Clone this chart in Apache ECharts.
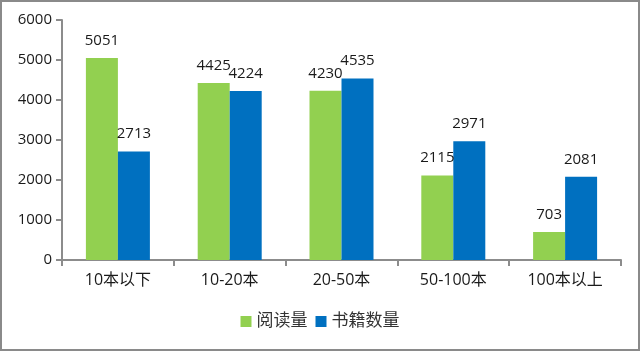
<!DOCTYPE html>
<html>
<head>
<meta charset="utf-8">
<script src="https://cdn.jsdelivr.net/npm/echarts@6/dist/echarts.min.js"></script>
<style>
  html, body { margin: 0; padding: 0; background: #fff; }
  #chart {
    width: 640px;
    height: 351px;
    box-sizing: border-box;
    border: 2px solid #8a8a8a;
  }
</style>
</head>
<body>
<div id="chart"></div>
<script>
const categories = ["10本以下", "10-20本", "20-50本", "50-100本", "100本以上"];
const readCounts = [5051, 4425, 4230, 2115, 703];
const bookCounts = [2713, 4224, 4535, 2971, 2081];
const seriesNames = ["阅读量", "书籍数量"];

const fontFamily = "'Open Sans', 'Noto Sans CJK SC', sans-serif";
const axisGray = "#8c8c8c";

const chart = echarts.init(document.getElementById("chart"), null, { renderer: "canvas" });

const barLabel = {
  show: true,
  position: "top",
  distance: 10,
  color: "#1a1a1a",
  fontSize: 15,
  fontFamily: fontFamily,
};

chart.setOption({
  animation: false,
  textStyle: { fontFamily: fontFamily },
  grid: {
    left: 60,
    right: 17,
    top: 18,
    bottom: 89,
  },
  legend: {
    data: seriesNames,
    bottom: 14,
    left: "center",
    itemWidth: 11,
    itemHeight: 11,
    itemGap: 8,
    icon: "rect",
    textStyle: {
      color: "#333",
      fontSize: 17,
      fontFamily: fontFamily,
    },
  },
  xAxis: {
    type: "category",
    data: categories,
    axisLine: { lineStyle: { color: axisGray, width: 2 } },
    axisTick: {
      show: true,
      length: 6,
      alignWithLabel: false,
      lineStyle: { color: axisGray, width: 2 },
    },
    axisLabel: {
      color: "#1a1a1a",
      fontSize: 16,
      margin: 12,
      fontFamily: fontFamily,
    },
  },
  yAxis: {
    type: "value",
    min: 0,
    max: 6000,
    interval: 1000,
    axisLine: { show: true, lineStyle: { color: axisGray, width: 2 } },
    axisTick: { show: true, length: 6, lineStyle: { color: axisGray, width: 2 } },
    axisLabel: {
      color: "#1a1a1a",
      fontSize: 15,
      margin: 10,
      fontFamily: fontFamily,
      formatter: (value) => String(value),
    },
    splitLine: { show: false },
  },
  series: [
    {
      name: seriesNames[0],
      type: "bar",
      data: readCounts,
      barWidth: 32,
      barGap: "0%",
      itemStyle: { color: "#92d050" },
      label: barLabel,
    },
    {
      name: seriesNames[1],
      type: "bar",
      data: bookCounts,
      barWidth: 32,
      itemStyle: { color: "#0070c0" },
      label: barLabel,
    },
  ],
});
</script>
</body>
</html>
